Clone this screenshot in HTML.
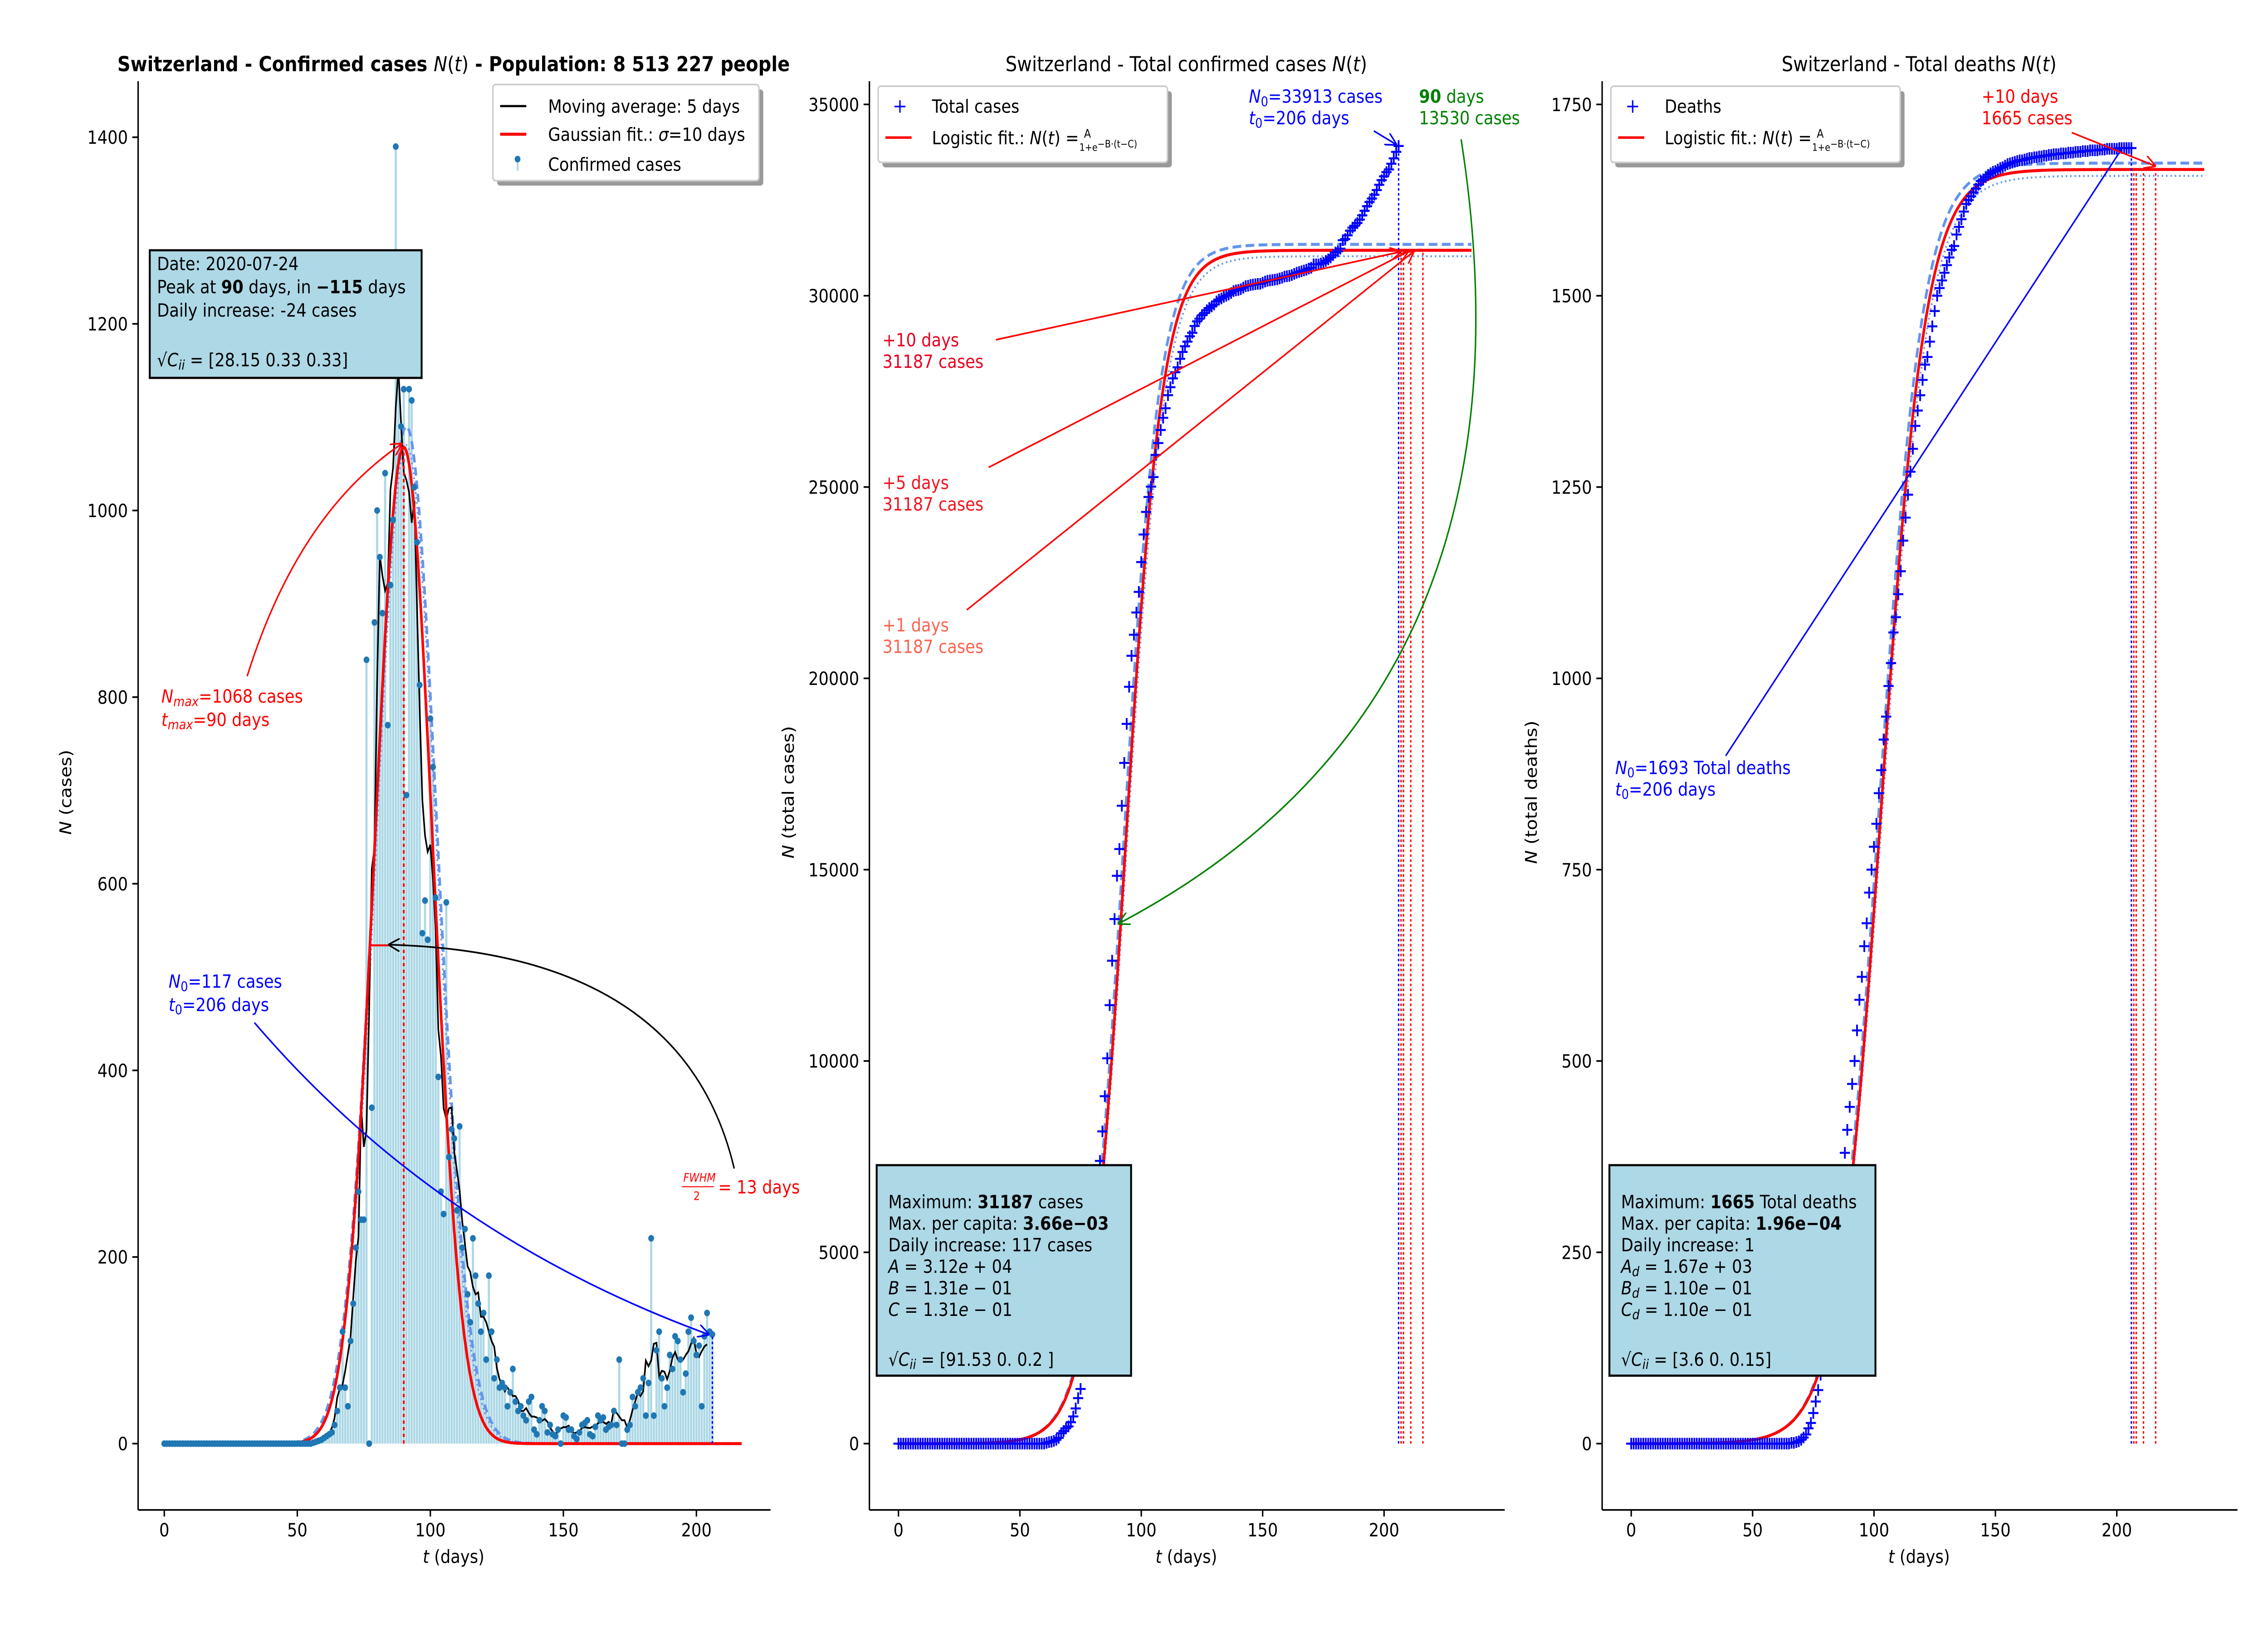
<!DOCTYPE html>
<html><head><meta charset="utf-8"><title>Switzerland COVID charts</title>
<style>
html,body{margin:0;padding:0;background:#fff;overflow:hidden;width:100%;height:100%;}
svg{display:block;position:absolute;left:0;top:0;width:100vw;height:100vh;font-family:"DejaVu Sans","Liberation Sans",sans-serif;}
.tk{font-size:11px;fill:#000;}
.lb{font-size:11px;fill:#000;}
.bx{font-size:11px;fill:#000;}
</style></head>
<body>
<svg id="chart" viewBox="0 0 1560 985.26" preserveAspectRatio="none" xmlns="http://www.w3.org/2000/svg">
<defs>
<marker id="ah-k" markerWidth="8" markerHeight="8" refX="7" refY="4" orient="auto" markerUnits="userSpaceOnUse"><path d="M0,0 L8,4 L0,8" fill="none" stroke="#000" stroke-width="1"/></marker>
<marker id="ah-b" markerWidth="8" markerHeight="8" refX="7" refY="4" orient="auto" markerUnits="userSpaceOnUse"><path d="M0,0 L8,4 L0,8" fill="none" stroke="#0000ff" stroke-width="1"/></marker>
<marker id="ah-r" markerWidth="8" markerHeight="8" refX="7" refY="4" orient="auto" markerUnits="userSpaceOnUse"><path d="M0,0 L8,4 L0,8" fill="none" stroke="#ff0000" stroke-width="1"/></marker>
<marker id="ah-g" markerWidth="8" markerHeight="8" refX="7" refY="4" orient="auto" markerUnits="userSpaceOnUse"><path d="M0,0 L8,4 L0,8" fill="none" stroke="#008000" stroke-width="1"/></marker>
</defs>
<rect x="0" y="0" width="1560" height="986" fill="#fff"/>

<text x="312" y="43" text-anchor="middle" font-size="12.5" font-weight="bold">Switzerland - Confirmed cases <tspan font-style="italic" font-weight="normal">N</tspan><tspan font-weight="normal">(</tspan><tspan font-style="italic" font-weight="normal">t</tspan><tspan font-weight="normal">)</tspan> - Population: 8 513 227 people</text>
<text x="816" y="43" text-anchor="middle" font-size="12.5">Switzerland - Total confirmed cases <tspan font-style="italic">N</tspan>(<tspan font-style="italic">t</tspan>)</text>
<text x="1320" y="43" text-anchor="middle" font-size="12.5">Switzerland - Total deaths <tspan font-style="italic">N</tspan>(<tspan font-style="italic">t</tspan>)</text>

<g id="p1"></g>
<g id="p2"></g>
<g id="p3"></g>

<g stroke="#000" stroke-width="1">
<line x1="95" y1="49" x2="95" y2="911"/>
<line x1="95" y1="911" x2="530" y2="911"/>
<line x1="598" y1="49" x2="598" y2="911"/>
<line x1="598" y1="911" x2="1035" y2="911"/>
<line x1="1102" y1="49" x2="1102" y2="911"/>
<line x1="1102" y1="911" x2="1539" y2="911"/>
</g>

<text x="312" y="943" text-anchor="middle" class="lb"><tspan font-style="italic">t</tspan> (days)</text>
<text x="816" y="943" text-anchor="middle" class="lb"><tspan font-style="italic">t</tspan> (days)</text>
<text x="1320" y="943" text-anchor="middle" class="lb"><tspan font-style="italic">t</tspan> (days)</text>
<text transform="translate(49,478) rotate(-90)" text-anchor="middle" class="lb"><tspan font-style="italic">N</tspan> (cases)</text>
<text transform="translate(546,478) rotate(-90)" text-anchor="middle" class="lb"><tspan font-style="italic">N</tspan> (total cases)</text>
<text transform="translate(1057,478) rotate(-90)" text-anchor="middle" class="lb"><tspan font-style="italic">N</tspan> (total deaths)</text>

<path d="M170,408 Q205,310 276,268" fill="none" stroke="#ff0000" stroke-width="1" marker-end="url(#ah-r)"/>
<text x="111" y="424" font-size="11" fill="#ff0000"><tspan font-style="italic">N<tspan font-size="8" dy="2">max</tspan></tspan><tspan dy="-2">=1068 cases</tspan></text>
<text x="111" y="438" font-size="11" fill="#ff0000"><tspan font-style="italic">t<tspan font-size="8" dy="2">max</tspan></tspan><tspan dy="-2">=90 days</tspan></text>
<path d="M505,705 Q470,575 268,570" fill="none" stroke="#000" stroke-width="1" marker-end="url(#ah-k)"/>
<text x="470" y="713" font-size="7" fill="#ff0000" font-style="italic">FWHM</text>
<line x1="469" y1="716" x2="491" y2="716" stroke="#ff0000" stroke-width="0.6"/>
<text x="477" y="724" font-size="7" fill="#ff0000">2</text>
<text x="494" y="720" font-size="11" fill="#ff0000">= 13 days</text>
<path d="M175,617 Q300,745 487,805" fill="none" stroke="#0000ff" stroke-width="1" marker-end="url(#ah-b)"/>
<text x="116" y="596" font-size="11" fill="#0000ff"><tspan font-style="italic">N</tspan><tspan font-size="8" dy="2">0</tspan><tspan dy="-2">=117 cases</tspan></text>
<text x="116" y="610" font-size="11" fill="#0000ff"><tspan font-style="italic">t</tspan><tspan font-size="8" dy="2">0</tspan><tspan dy="-2">=206 days</tspan></text>

<g>
<rect x="103" y="151" width="187" height="77" fill="#add8e6" stroke="#000" stroke-width="1.3"/>
<text x="108" y="163" class="bx">Date: 2020-07-24</text>
<text x="108" y="177" class="bx">Peak at <tspan font-weight="bold">90</tspan> days, in <tspan font-weight="bold">−115</tspan> days</text>
<text x="108" y="191" class="bx">Daily increase: -24 cases</text>
<text x="108" y="221" class="bx">√<tspan font-style="italic">C<tspan font-size="8" dy="2">ii</tspan></tspan><tspan dy="-2"> = [28.15  0.33  0.33]</tspan></text>
</g>

<g>
<rect x="342" y="54" width="183" height="58" fill="#999" rx="2"/>
<rect x="339" y="51" width="183" height="58" fill="#fff" stroke="#ccc" stroke-width="1" rx="2"/>
<line x1="344" y1="64" x2="362" y2="64" stroke="#000" stroke-width="1.3"/>
<text x="377" y="68" class="lb">Moving average: 5 days</text>
<line x1="344" y1="81" x2="362" y2="81" stroke="#ff0000" stroke-width="1.8"/>
<text x="377" y="85" class="lb">Gaussian fit.: <tspan font-style="italic">σ</tspan>=10 days</text>
<line x1="356" y1="96" x2="356" y2="103" stroke="#add8e6" stroke-width="1.2"/>
<circle cx="356" cy="96" r="2" fill="#1f77b4"/>
<text x="377" y="103" class="lb">Confirmed cases</text>
</g>

<g>
<line x1="685" y1="205" x2="963" y2="152" stroke="#ff0000" stroke-width="1" marker-end="url(#ah-r)"/>
<line x1="680" y1="282" x2="968" y2="152" stroke="#ff0000" stroke-width="1" marker-end="url(#ah-r)"/>
<line x1="665" y1="368" x2="972" y2="152" stroke="#ff0000" stroke-width="1" marker-end="url(#ah-r)"/>
<text x="607" y="209" font-size="11" fill="#e8001f">+10 days</text>
<text x="607" y="222" font-size="11" fill="#e8001f">31187 cases</text>
<text x="607" y="295" font-size="11" fill="#f0141e">+5 days</text>
<text x="607" y="308" font-size="11" fill="#f0141e">31187 cases</text>
<text x="607" y="381" font-size="11" fill="#fa6450">+1 days</text>
<text x="607" y="394" font-size="11" fill="#fa6450">31187 cases</text>
<text x="859" y="62" font-size="11" fill="#0000ff"><tspan font-style="italic">N</tspan><tspan font-size="8" dy="2">0</tspan><tspan dy="-2">=33913 cases</tspan></text>
<text x="859" y="75" font-size="11" fill="#0000ff"><tspan font-style="italic">t</tspan><tspan font-size="8" dy="2">0</tspan><tspan dy="-2">=206 days</tspan></text>
<line x1="945" y1="79" x2="960" y2="87" stroke="#0000ff" stroke-width="1" marker-end="url(#ah-b)"/>
<text x="976" y="62" font-size="11" fill="#008000"><tspan font-weight="bold">90</tspan> days</text>
<text x="976" y="75" font-size="11" fill="#008000">13530 cases</text>
<path d="M1005,84 Q1065,420 770,557" fill="none" stroke="#008000" stroke-width="1" marker-end="url(#ah-g)"/>
</g>
<g>
<rect x="603" y="703" width="175" height="127" fill="#add8e6" stroke="#000" stroke-width="1.3"/>
<text x="611" y="729" class="bx">Maximum: <tspan font-weight="bold">31187</tspan> cases</text>
<text x="611" y="742" class="bx">Max. per capita: <tspan font-weight="bold">3.66e−03</tspan></text>
<text x="611" y="755" class="bx">Daily increase: 117 cases</text>
<text x="611" y="768" class="bx"><tspan font-style="italic">A</tspan> = 3.12<tspan font-style="italic">e</tspan> + 04</text>
<text x="611" y="781" class="bx"><tspan font-style="italic">B</tspan> = 1.31<tspan font-style="italic">e</tspan> − 01</text>
<text x="611" y="794" class="bx"><tspan font-style="italic">C</tspan> = 1.31<tspan font-style="italic">e</tspan> − 01</text>
<text x="611" y="824" class="bx">√<tspan font-style="italic">C<tspan font-size="8" dy="2">ii</tspan></tspan><tspan dy="-2"> = [91.53  0.    0.2 ]</tspan></text>
</g>
<g>
<rect x="607" y="55" width="199" height="46" fill="#999" rx="2"/>
<rect x="604" y="52" width="199" height="46" fill="#fff" stroke="#ccc" stroke-width="1" rx="2"/>
<text x="619" y="68" text-anchor="middle" font-size="12" fill="#0000ff">+</text>
<text x="641" y="68" class="lb">Total cases</text>
<line x1="609" y1="83" x2="627" y2="83" stroke="#ff0000" stroke-width="1.5"/>
<text x="641" y="87" class="lb">Logistic fit.: <tspan font-style="italic">N</tspan>(<tspan font-style="italic">t</tspan>) = <tspan font-size="7" dy="-4">A</tspan><tspan font-size="6" dx="-8" dy="8">1+e<tspan dy="-2">−B·(t−C)</tspan></tspan></text>
</g>

<g>
<line x1="1187" y1="456" x2="1460" y2="89" stroke="#0000ff" stroke-width="1"/>
<text x="1111" y="467" font-size="11" fill="#0000ff"><tspan font-style="italic">N</tspan><tspan font-size="8" dy="2">0</tspan><tspan dy="-2">=1693 Total deaths</tspan></text>
<text x="1111" y="480" font-size="11" fill="#0000ff"><tspan font-style="italic">t</tspan><tspan font-size="8" dy="2">0</tspan><tspan dy="-2">=206 days</tspan></text>
<text x="1363" y="62" font-size="11" fill="#ff0000">+10 days</text>
<text x="1363" y="75" font-size="11" fill="#ff0000">1665 cases</text>
<line x1="1425" y1="80" x2="1482" y2="100" stroke="#ff0000" stroke-width="1" marker-end="url(#ah-r)"/>
</g>
<g>
<rect x="1107" y="703" width="183" height="127" fill="#add8e6" stroke="#000" stroke-width="1.3"/>
<text x="1115" y="729" class="bx">Maximum: <tspan font-weight="bold">1665</tspan> Total deaths</text>
<text x="1115" y="742" class="bx">Max. per capita: <tspan font-weight="bold">1.96e−04</tspan></text>
<text x="1115" y="755" class="bx">Daily increase: 1</text>
<text x="1115" y="768" class="bx"><tspan font-style="italic">A<tspan font-size="8" dy="2">d</tspan></tspan><tspan dy="-2"> = 1.67</tspan><tspan font-style="italic">e</tspan> + 03</text>
<text x="1115" y="781" class="bx"><tspan font-style="italic">B<tspan font-size="8" dy="2">d</tspan></tspan><tspan dy="-2"> = 1.10</tspan><tspan font-style="italic">e</tspan> − 01</text>
<text x="1115" y="794" class="bx"><tspan font-style="italic">C<tspan font-size="8" dy="2">d</tspan></tspan><tspan dy="-2"> = 1.10</tspan><tspan font-style="italic">e</tspan> − 01</text>
<text x="1115" y="824" class="bx">√<tspan font-style="italic">C<tspan font-size="8" dy="2">ii</tspan></tspan><tspan dy="-2"> = [3.6  0.   0.15]</tspan></text>
</g>
<g>
<rect x="1111" y="55" width="199" height="46" fill="#999" rx="2"/>
<rect x="1108" y="52" width="199" height="46" fill="#fff" stroke="#ccc" stroke-width="1" rx="2"/>
<text x="1123" y="68" text-anchor="middle" font-size="12" fill="#0000ff">+</text>
<text x="1145" y="68" class="lb">Deaths</text>
<line x1="1113" y1="83" x2="1131" y2="83" stroke="#ff0000" stroke-width="1.5"/>
<text x="1145" y="87" class="lb">Logistic fit.: <tspan font-style="italic">N</tspan>(<tspan font-style="italic">t</tspan>) = <tspan font-size="7" dy="-4">A</tspan><tspan font-size="6" dx="-8" dy="8">1+e<tspan dy="-2">−B·(t−C)</tspan></tspan></text>
</g>
</svg>

<script>
const dailyCases = [
0,0,0,0,0,0,0,0,0,0, 0,0,0,0,0,0,0,0,0,0,
0,0,0,0,0,0,0,0,0,0, 0,0,0,0,0,0,0,0,0,0,
0,0,0,0,0,0,0,0,0,0, 0,0,0,0,0,0,1,2,3,4,
6,8,10,12,20,35,60,120,60,40, 110,150,210,270,240,240,840,0,360,880,
1000,950,890,1040,770,920,990,1390,1160,1090, 1130,695,1130,1118,1025,966,813,547,582,540,
777,725,585,393,270,246,580,307,337,327, 250,340,210,230,160,130,220,180,150,120,
140,90,180,120,70,90,60,65,60,40, 55,80,45,35,40,30,25,45,50,15,
10,25,40,35,12,20,10,8,15,0, 30,28,15,15,8,5,12,20,22,25,
10,8,18,30,25,28,15,18,20,35, 20,90,0,0,15,20,50,40,55,60,
70,30,65,220,30,100,120,70,40,60, 95,80,115,110,90,55,75,120,135,110,
95,105,40,115,140,120,117
];
const totalCases = [
0,0,0,0,0,0,0,0,0,0, 0,0,0,0,0,0,0,0,0,0,
0,0,0,0,0,0,0,0,0,0, 0,0,0,0,0,0,0,0,0,0,
0,0,0,0,0,0,0,0,0,0, 0,0,0,0,0,0,0,0,0,0,
0,20,40,50,70,100,150,270,330,400, 450,560,710,920,1190,1430,2270,2270,2630,3510,
4510,5460,6350,7390,8160,9080,10070,11460,12620,13710, 14840,15540,16670,17790,18810,19780,20590,21140,21720,22260,
23040,23760,24350,24740,25010,25260,25840,26150,26490,26810, 27060,27400,27610,27840,28000,28130,28350,28530,28680,28800,
28940,29030,29210,29330,29400,29490,29550,29620,29680,29720, 29770,29850,29900,29930,29970,30000,30030,30070,30120,30140,
30150,30170,30210,30250,30260,30280,30290,30300,30310,30310, 30340,30370,30390,30400,30410,30420,30430,30450,30470,30500,
30510,30520,30540,30570,30600,30620,30640,30660,30680,30710, 30730,30820,30820,30820,30840,30860,30910,30950,31000,31060,
31130,31160,31230,31450,31480,31580,31700,31780,31830,31900, 31990,32100,32220,32340,32450,32540,32640,32760,32900,33020,
33120,33230,33300,33450,33590,33760,33913
];
const totalDeaths = [
0,0,0,0,0,0,0,0,0,0, 0,0,0,0,0,0,0,0,0,0,
0,0,0,0,0,0,0,0,0,0, 0,0,0,0,0,0,0,0,0,0,
0,0,0,0,0,0,0,0,0,0, 0,0,0,0,0,0,0,0,0,0,
0,0,0,0,0,0,1,1,2,3, 5,8,12,20,27,40,55,70,90,110,
135,160,190,220,250,280,310,350,380,410, 440,470,500,540,580,610,650,680,720,750,
780,810,850,880,920,950,990,1020,1060,1080, 1110,1140,1180,1210,1240,1270,1300,1330,1350,1370,
1390,1410,1420,1440,1460,1480,1500,1510,1520,1530, 1540,1550,1560,1565,1580,1590,1600,1610,1620,1625,
1630,1635,1640,1645,1650,1652,1655,1658,1660,1662, 1663,1665,1667,1668,1670,1672,1673,1674,1675,1676,
1677,1677,1678,1679,1680,1680,1681,1681,1682,1682, 1683,1683,1684,1684,1685,1685,1685,1686,1686,1686,
1687,1687,1687,1688,1688,1688,1689,1689,1689,1690, 1690,1690,1690,1691,1691,1691,1692,1692,1692,1692,
1692,1693,1693,1693,1693,1693,1693
];
const xTicks = [0,50,100,150,200];
const p1YTicks = [0,200,400,600,800,1000,1200,1400];
const p2YTicks = [0,5000,10000,15000,20000,25000,30000,35000];
const p3YTicks = [0,250,500,750,1000,1250,1500,1750];
const gaussPeak = 1068, gaussMu = 90, gaussSigma = 10.8;
const gaussUpPeak = 1090, gaussUpMu = 91, gaussUpSigma = 11.5;
const logA = 31187, logB = 0.131, logMid = 93.5;
const logDA = 1665, logDB = 0.11, logDMid = 103;
const lastDay = 206;
const futureOffsets = [1,2,5,10];

function x1(d){return 113 + d*1.83;}
function y1(v){return 871 - v*0.563;}
function x2(d){return 618 + d*1.67;}
function y2(v){return 871 - v*0.023086;}
function x3(d){return 1122 + d*1.67;}
function y3(v){return 871 - v*0.46171;}

const NS = "http://www.w3.org/2000/svg";
function mk(tag, parent, attrs){
  const e = document.createElementNS(NS, tag);
  for (const k in attrs) e.setAttribute(k, attrs[k]);
  parent.appendChild(e);
  return e;
}
function curvePath(fx, fy, f, d0, d1){
  let s = "";
  for (let d = d0; d <= d1; d += 0.5) s += (s ? "L" : "M") + fx(d).toFixed(2) + "," + fy(f(d)).toFixed(2);
  return s;
}
function ticks(g, fx, fy, yt, xLeft, prefix){
  xTicks.forEach(t => {
    const l = mk("line", g, {x1:fx(t), y1:911, x2:fx(t), y2:915, stroke:"#000", "stroke-width":1});
    
    
    const tx = mk("text", g, {x:fx(t), y:927, "text-anchor":"middle", class:"tk"});
    tx.textContent = t;
    
    
  });
  yt.forEach(t => {
    const l = mk("line", g, {x1:xLeft-4, y1:fy(t), x2:xLeft, y2:fy(t), stroke:"#000", "stroke-width":1});
    
    
    const tx = mk("text", g, {x:xLeft-7, y:fy(t)+4, "text-anchor":"end", class:"tk"});
    tx.textContent = t;
    
    
  });
}

const p1 = document.getElementById("p1");
ticks(p1, x1, y1, p1YTicks, 95, "p1");
dailyCases.forEach((v, d) => {
  const s = mk("line", p1, {x1:x1(d), y1:y1(0), x2:x1(d), y2:y1(v), stroke:"#add8e6", "stroke-width":1.5});
  
  
});
const g1up = mk("path", p1, {d:curvePath(x1, y1, t => gaussUpPeak*Math.exp(-Math.pow(t-gaussUpMu,2)/(2*gaussUpSigma*gaussUpSigma)), 0, 217), fill:"none", stroke:"#6495ed", "stroke-width":1.8, "stroke-dasharray":"5,3"});


const g1lo = mk("path", p1, {d:curvePath(x1, y1, t => (gaussUpPeak-20)*Math.exp(-Math.pow(t-gaussUpMu,2)/(2*(gaussUpSigma-0.3)*(gaussUpSigma-0.3))), 0, 217), fill:"none", stroke:"#6495ed", "stroke-width":1.2, "stroke-dasharray":"1,2"});


let maPath = "";
dailyCases.forEach((v, d) => {
  if (d < 4) return;
  let s = 0; for (let k = d-4; k <= d; k++) s += dailyCases[k];
  maPath += (maPath ? "L" : "M") + x1(d-2).toFixed(2) + "," + y1(s/5).toFixed(2);
});
const ma = mk("path", p1, {d:maPath, fill:"none", stroke:"#000", "stroke-width":1.1});


const gfit = mk("path", p1, {d:curvePath(x1, y1, t => gaussPeak*Math.exp(-Math.pow(t-gaussMu,2)/(2*gaussSigma*gaussSigma)), 0, 217), fill:"none", stroke:"#ff0000", "stroke-width":1.8});


dailyCases.forEach((v, d) => {
  const c = mk("circle", p1, {cx:x1(d), cy:y1(v), r:2, fill:"#1f77b4"});
  
  
});
const pkLine = mk("line", p1, {x1:x1(gaussMu), y1:y1(0), x2:x1(gaussMu), y2:y1(gaussPeak), stroke:"#ff0000", "stroke-width":1.3, "stroke-dasharray":"2,2"});


const halfW = gaussSigma*1.1774;
const hm = mk("line", p1, {x1:x1(gaussMu-halfW), y1:y1(gaussPeak/2), x2:x1(gaussMu-halfW/2.2), y2:y1(gaussPeak/2), stroke:"#ff0000", "stroke-width":1.2});


const lastLine = mk("line", p1, {x1:x1(lastDay), y1:y1(0), x2:x1(lastDay), y2:y1(dailyCases[lastDay]), stroke:"#0000ff", "stroke-width":1, "stroke-dasharray":"1.5,1.5"});



function cumulativePanel(gId, fx, fy, yt, xLeft, prefix, data, A, B, mid, markName){
  const g = document.getElementById(gId);
  ticks(g, fx, fy, yt, xLeft, prefix);
  const up = mk("path", g, {d:curvePath(fx, fy, t => A*1.005/(1+Math.exp(-B*1.02*(t-mid+0.8))), 0, 236), fill:"none", stroke:"#6495ed", "stroke-width":1.8, "stroke-dasharray":"6,3"});
  
  
  const lo = mk("path", g, {d:curvePath(fx, fy, t => A*0.995/(1+Math.exp(-B*0.98*(t-mid-0.5))), 0, 236), fill:"none", stroke:"#6495ed", "stroke-width":1.2, "stroke-dasharray":"1,2"});
  
  
  const fit = mk("path", g, {d:curvePath(fx, fy, t => A/(1+Math.exp(-B*(t-mid))), 0, 236), fill:"none", stroke:"#ff0000", "stroke-width":1.8});
  
  
  const bl = mk("line", g, {x1:fx(lastDay), y1:fy(0), x2:fx(lastDay), y2:fy(data[lastDay]), stroke:"#0000ff", "stroke-width":1, "stroke-dasharray":"1.5,1.5"});
  
  
  futureOffsets.forEach(o => {
    const rl = mk("line", g, {x1:fx(lastDay+o), y1:fy(0), x2:fx(lastDay+o), y2:fy(A), stroke:"#ff0000", "stroke-width":1, "stroke-dasharray":"1.5,1.5"});
    
    
  });
  data.forEach((v, d) => {
    const px = fx(d), py = fy(v);
    const m = mk("path", g, {d:"M"+(px-3.5)+","+py+"H"+(px+3.5)+"M"+px+","+(py-3.5)+"V"+(py+3.5), stroke:"#0000ff", "stroke-width":1.2, fill:"none"});
    
    
  });
}
cumulativePanel("p2", x2, y2, p2YTicks, 598, "p2", totalCases, logA, logB, logMid, "total-cases-marker");
cumulativePanel("p3", x3, y3, p3YTicks, 1102, "p3", totalDeaths, logDA, logDB, logDMid, "total-deaths-marker");
</script>
</body></html>
